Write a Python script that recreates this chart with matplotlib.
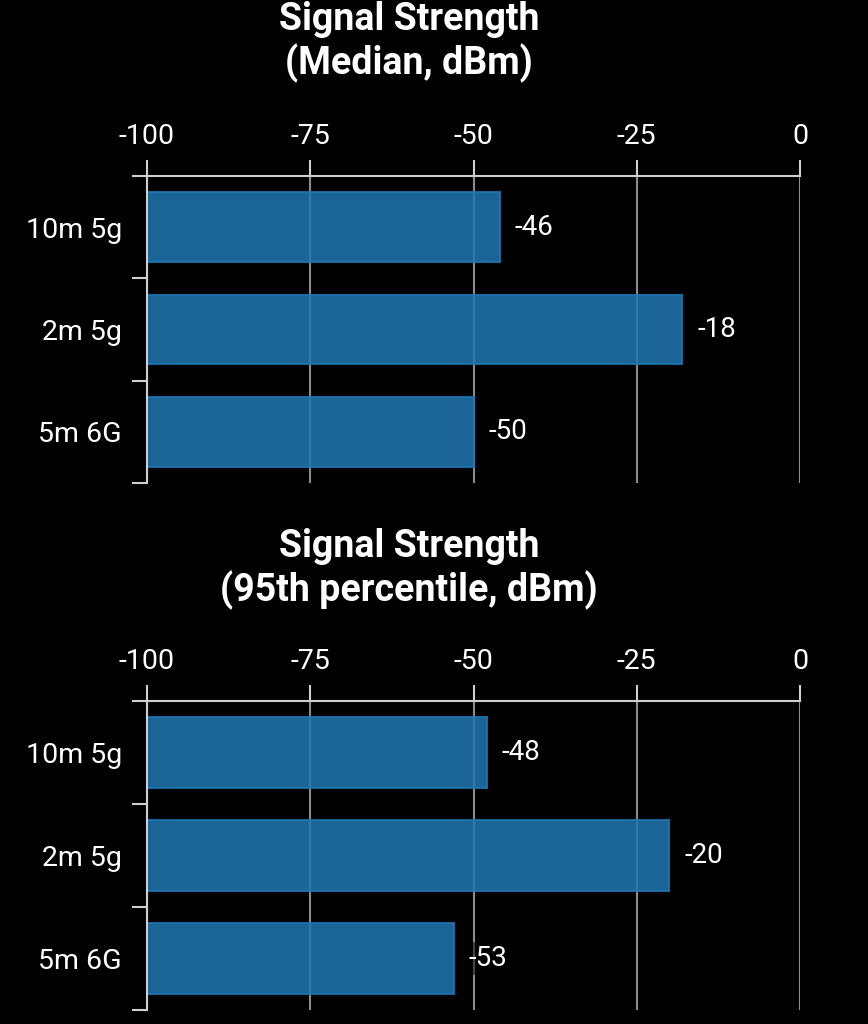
import matplotlib.pyplot as plt
import numpy as np

categories = ["10m 5g", "2m 5g", "5m 6G"]
median_dbm = [-46, -18, -50]
p95_dbm = [-48, -20, -53]
titles = ["Signal Strength\n(Median, dBm)", "Signal Strength\n(95th percentile, dBm)"]
xticks = [-100, -75, -50, -25, 0]

plt.rcParams["font.family"] = ["Roboto", "DejaVu Sans"]

bar_color = "#1f77b4"
grid_color = "#8c8c8c"
axis_color = "#cfcfcf"

fig = plt.figure(figsize=(8.68, 10.24), dpi=100, facecolor="black")

axes_rects = [
    [147 / 868, 541 / 1024, 653 / 868, 307 / 1024],
    [147 / 868, 14 / 1024, 653 / 868, 309 / 1024],
]
title_y = [1 - 42 / 1024, 1 - 569 / 1024]


def draw_panel(ax, values):
    ax.set_facecolor("black")
    y = np.arange(len(categories))
    widths = [v - (-100) for v in values]
    ax.barh(y, widths, left=-100, height=0.68, color=bar_color, alpha=0.85,
            edgecolor=bar_color, linewidth=1.5, zorder=2)
    for yi, v in zip(y, values):
        ax.text(v + 2.3, yi, f"{v}", color="white", fontsize=20, va="center",
                ha="left", zorder=4,
                bbox=dict(facecolor="black", edgecolor="none", alpha=0.5, pad=2))

    ax.set_xlim(-100, 0)
    ax.set_ylim(len(categories) - 0.5, -0.5)
    ax.set_xticks(xticks)
    ax.set_xticklabels([str(t) for t in xticks])
    ax.xaxis.tick_top()
    ax.tick_params(axis="x", colors=axis_color, labelcolor="white", labelsize=20.5,
                   length=11.5, width=1.5, pad=7.5)

    ax.set_yticks(y)
    ax.set_yticklabels(categories)
    ax.set_yticks(np.arange(len(categories) + 1) - 0.5, minor=True)
    ax.tick_params(axis="y", which="major", length=0, labelcolor="white",
                   labelsize=20.5, pad=18)
    ax.tick_params(axis="y", which="minor", length=11, width=1.5, color=axis_color)

    ax.set_axisbelow(True)
    ax.grid(axis="x", color=grid_color, linewidth=1.5)
    ax.grid(axis="y", visible=False)

    for side in ["right", "bottom"]:
        ax.spines[side].set_visible(False)
    for side in ["top", "left"]:
        ax.spines[side].set_color(axis_color)
        ax.spines[side].set_linewidth(1.5)
        ax.spines[side].set_zorder(3)


for rect, vals, title, ty in zip(axes_rects, [median_dbm, p95_dbm], titles, title_y):
    ax = fig.add_axes(rect)
    draw_panel(ax, vals)
    fig.text(409 / 868, ty, title, color="white", fontsize=27, fontweight="bold",
             ha="center", va="center", linespacing=1.15)

fig.savefig("out.png", dpi=100, facecolor="black")
